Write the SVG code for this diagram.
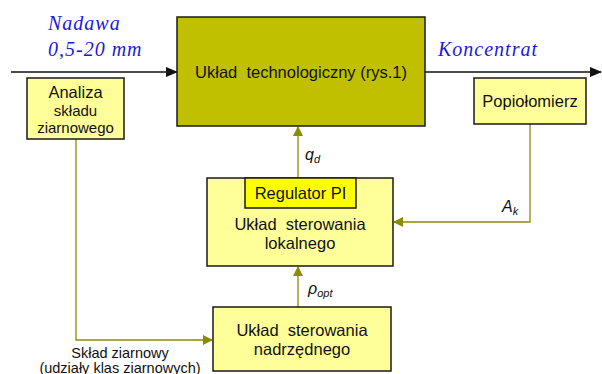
<svg xmlns="http://www.w3.org/2000/svg" width="602" height="374" viewBox="0 0 602 374">
<style>
.box{stroke:#1a1a1a;stroke-width:1.5}
.lt{fill:#FFFF99}
.t{font-family:"Liberation Sans",Arial,sans-serif;font-size:16.5px;fill:#111;text-anchor:middle;white-space:pre}
.s{font-size:15px}
.c{font-size:14.5px}
.it{font-family:"Liberation Serif","Times New Roman",serif;font-style:italic;font-size:20px;fill:#1a1adc;letter-spacing:1px}
.ol{stroke:#8c8c00;stroke-width:1.3;fill:none}
.bl{stroke:#111;stroke-width:1.6;fill:none}
.m{font-family:"Liberation Sans",Arial,sans-serif;font-style:italic;font-size:16px;fill:#111}
</style>
<defs>
<marker id="ao" markerWidth="10" markerHeight="10" refX="9" refY="5" orient="auto" markerUnits="userSpaceOnUse"><path d="M0,0 L10,5 L0,10 Z" fill="#8c8c00"/></marker>
<marker id="ab" markerWidth="12" markerHeight="10" refX="11" refY="5" orient="auto" markerUnits="userSpaceOnUse"><path d="M0,0 L12,5 L0,10 Z" fill="#111"/></marker>
</defs>
<rect width="602" height="374" fill="#fff"/>
<g id="connectors">
<line class="bl" x1="11" y1="72" x2="177" y2="72" marker-end="url(#ab)"/>
<line class="bl" x1="425" y1="72" x2="601" y2="72" marker-end="url(#ab)"/>
<line class="ol" x1="298" y1="178" x2="298" y2="127" marker-end="url(#ao)"/>
<line class="ol" x1="298" y1="307" x2="298" y2="267" marker-end="url(#ao)"/>
<polyline class="ol" points="530,124 530,222 394,222" marker-end="url(#ao)"/>
<polyline class="ol" points="76,139 76,340 212,340" marker-end="url(#ao)"/>
<text class="m" x="305" y="160">q<tspan font-size="11" dy="3">d</tspan></text>
<text class="m" x="308" y="294">ρ<tspan font-size="11" dy="3">opt</tspan></text>
<text class="m" x="502" y="212">A<tspan font-size="11" dy="3">k</tspan></text>
<text class="t c" x="120" y="358">Skład ziarnowy</text>
<text class="t c" x="120" y="373">(udziały klas ziarnowych)</text>
<text class="it" x="48" y="30">Nadawa</text>
<text class="it" x="48" y="56">0,5-20 mm</text>
<text class="it" x="438" y="56">Koncentrat</text>
</g>
<g id="uklad-technologiczny">
<rect class="box" x="177" y="17" width="248" height="109" fill="#C0C000"/>
<text class="t" x="301" y="78">Układ  technologiczny (rys.1)</text>
</g>
<g id="analiza">
<rect class="box lt" x="27" y="78" width="97" height="61"/>
<text class="t" x="75.5" y="98">Analiza</text>
<text class="t s" x="75.5" y="116">składu</text>
<text class="t s" x="75.5" y="133">ziarnowego</text>
</g>
<g id="popiolomierz">
<rect class="box lt" x="474" y="78" width="112" height="46"/>
<text class="t" x="530" y="107">Popiołomierz</text>
</g>
<g id="sterowanie-lokalne">
<rect class="box lt" x="207" y="178" width="186" height="88"/>
<rect class="box" x="245" y="178" width="111" height="30" fill="#FFFF00"/>
<text class="t" x="300.5" y="199">Regulator PI</text>
<text class="t" x="300" y="230">Układ  sterowania</text>
<text class="t" x="300" y="249">lokalnego</text>
</g>
<g id="sterowanie-nadrzedne">
<rect class="box lt" x="213" y="307" width="178" height="64"/>
<text class="t" x="302" y="336">Układ  sterowania</text>
<text class="t" x="302" y="355">nadrzędnego</text>
</g>
</svg>
